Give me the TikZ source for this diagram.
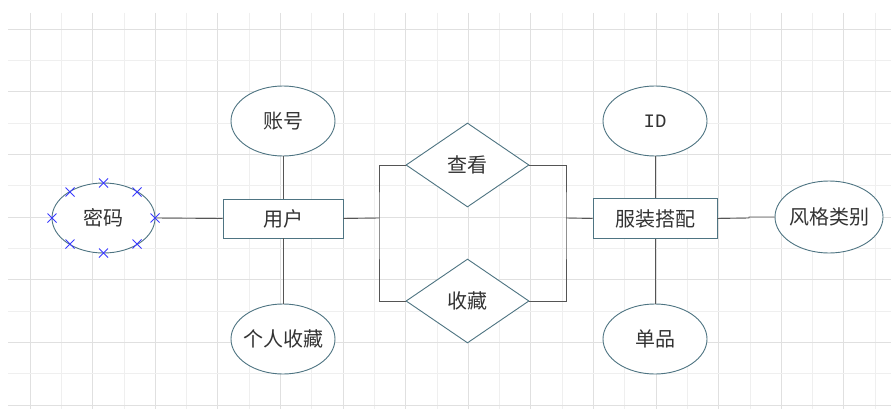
\documentclass[tikz,border=0pt]{standalone}
\usepackage{fontspec}
\setmainfont{Noto Sans CJK SC}
\newfontfamily\idfont{Liberation Mono}
\usetikzlibrary{shapes.geometric,calc}
\definecolor{shapeline}{HTML}{4E7482}
\definecolor{conn}{HTML}{555555}
\definecolor{txt}{HTML}{333333}
\definecolor{gridA}{HTML}{E0E0E0}
\definecolor{gridB}{HTML}{EFEFEF}
\definecolor{crossblue}{HTML}{3A3AFF}
\tikzset{
  attr/.style={ellipse,draw=shapeline,line width=0.9pt,fill=white,inner sep=0pt,
    minimum width=104pt,minimum height=70pt,text=txt,font=\fontsize{20}{23}\selectfont},
  entity/.style={rectangle,draw=shapeline,line width=0.9pt,fill=white,inner sep=0pt,
    minimum height=39pt,text=txt,font=\fontsize{20}{23}\selectfont},
  rel/.style={diamond,draw=shapeline,line width=0.9pt,fill=white,inner sep=0pt,aspect=1.46,
    minimum width=123pt,minimum height=84pt,text=txt,font=\fontsize{20}{23}\selectfont},
  link/.style={draw=conn,line width=0.9pt},
  xmark/.style={draw=crossblue,line width=0.8pt}
}
\newcommand{\xcross}[1]{\draw[xmark] ($(#1)+(-4.5,-4.5)$) -- ($(#1)+(4.5,4.5)$) ($(#1)+(-4.5,4.5)$) -- ($(#1)+(4.5,-4.5)$);}
\newcommand{\zw}[1]{\makebox[0pt][c]{#1}}
\begin{document}
\begin{tikzpicture}[x=1pt,y=-1pt]
\useasboundingbox (0,0) rectangle (891,409);
\fill[white] (0,0) rectangle (891,409);
% grid
\foreach \i in {0,...,27} {
  \pgfmathsetmacro{\xx}{30+31.3*\i}
  \pgfmathtruncatemacro{\gp}{mod(\i,2)}
  \ifnum\gp=0 \draw[gridA,line width=0.8pt] (\xx,13) -- (\xx,409);
  \else \draw[gridB,line width=0.8pt] (\xx,13) -- (\xx,409); \fi
}
\foreach \j in {0,...,12} {
  \pgfmathsetmacro{\yy}{29+31.33*\j}
  \pgfmathtruncatemacro{\gp}{mod(\j,2)}
  \ifnum\gp=0 \draw[gridA,line width=0.8pt] (8,\yy) -- (891,\yy);
  \else \draw[gridB,line width=0.8pt] (8,\yy) -- (891,\yy); \fi
}
% nodes
\node[attr,minimum width=103pt] (mima) at (103.5,218) {\zw{密码}};
\node[entity,minimum width=120pt] (yonghu) at (283,218.5) {\zw{用户}};
\node[attr] (zhanghao) at (283,121) {\zw{账号}};
\node[attr] (shoucangattr) at (283,339) {\zw{个人收藏}};
\node[rel] (chakan) at (467.5,165) {\zw{查看}};
\node[rel] (shoucang) at (467.5,301) {\zw{收藏}};
\node[entity,minimum width=124pt,minimum height=40pt] (fuzhuang) at (655,218.5) {\zw{服装搭配}};
\node[attr] (id) at (655,121) {\zw{\idfont\fontsize{19}{22}\selectfont ID}};
\node[attr] (danpin) at (655,339) {\zw{单品}};
\node[attr,minimum width=108pt,minimum height=72pt] (fengge) at (829,217) {\zw{风格类别}};
% junctions
\coordinate (jL) at (379,218);
\coordinate (jR) at (566,218);
\coordinate (kA) at (749,218);
% connectors
\draw[link] (mima.east) -- (yonghu.west);
\draw[link] (zhanghao.south) -- (yonghu.north);
\draw[link] (yonghu.south) -- (shoucangattr.north);
\draw[link] (yonghu.east) -- (jL);
\draw[link] (chakan.west) -| (jL) |- (shoucang.west);
\draw[link] (chakan.east) -| (jR) |- (shoucang.east);
\draw[link] (jR) -- (fuzhuang.west);
\draw[link] (id.south) -- (fuzhuang.north);
\draw[link] (fuzhuang.south) -- (danpin.north);
\draw[link] (fuzhuang.east) -- (kA) |- (fengge.west);
% selection crosses on 密码
\coordinate (c1) at (103.5,183);
\coordinate (c2) at (103.5,253);
\coordinate (c3) at (52,218);
\coordinate (c4) at (155,218);
\coordinate (c5) at (70,192);
\coordinate (c6) at (137,192);
\coordinate (c7) at (70,244);
\coordinate (c8) at (137,244);
\foreach \c in {c1,c2,c3,c4,c5,c6,c7,c8} {\xcross{\c}}
\end{tikzpicture}
\end{document}
